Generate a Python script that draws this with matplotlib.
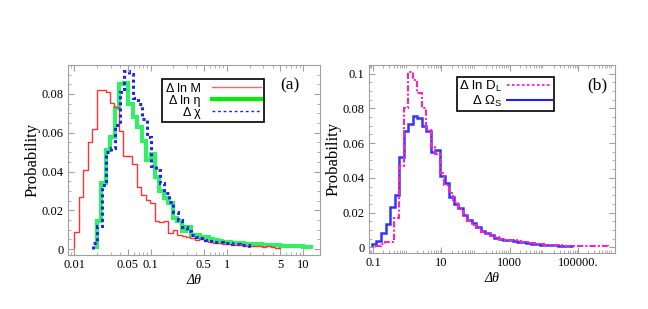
import numpy as np
import matplotlib.pyplot as plt
from matplotlib.lines import Line2D
from matplotlib.ticker import FixedLocator, FixedFormatter, LogLocator, MultipleLocator, NullFormatter

plt.rcParams['mathtext.fontset'] = 'custom'
plt.rcParams['mathtext.rm'] = 'Liberation Sans'
plt.rcParams['mathtext.it'] = 'Liberation Sans:italic'

# ---- panel (a): histograms in log10(dtheta), bins of equal log width ----
a_binw = 0.0586
lnM_start = -2.0
lnM = [0.009, 0.027, 0.041, 0.055, 0.062, 0.082, 0.082, 0.081, 0.0755, 0.0735,
       0.061, 0.048, 0.048, 0.044, 0.032, 0.0277, 0.0255, 0.0237, 0.0146, 0.014,
       0.0145, 0.0085, 0.010, 0.0075, 0.007, 0.006, 0.0055, 0.0045, 0.005, 0.004,
       0.0035, 0.003, 0.003, 0.0025, 0.0025, 0.002, 0.002, 0.002, 0.0015, 0.0015,
       0.0015, 0.0015, 0.001, 0.0015, 0.001, 0.0005]

lneta_start = -1.703
lneta = [0.0145, 0.034, 0.051, 0.058, 0.073, 0.085, 0.0855, 0.075, 0.068, 0.063,
         0.056, 0.046, 0.049, 0.037, 0.030, 0.0265, 0.024, 0.016, 0.0145, 0.0095,
         0.0115, 0.0075, 0.0075, 0.0065, 0.006, 0.005, 0.0045, 0.004, 0.0038, 0.0035,
         0.0033, 0.003, 0.003, 0.0028, 0.0027, 0.0025, 0.0025, 0.0022, 0.002, 0.002,
         0.002, 0.0018, 0.0018, 0.0015, 0.0015, 0.0015, 0.0012, 0.0012]

chi_start = -1.755
chi = [0.0034, 0.012, 0.033, 0.050, 0.052, 0.064, 0.081, 0.092, 0.0905, 0.078,
       0.075, 0.067, 0.058, 0.043, 0.041, 0.034, 0.029, 0.0245, 0.019, 0.015,
       0.0115, 0.0095, 0.0075, 0.0065, 0.0055, 0.0048, 0.0042, 0.0038, 0.0035, 0.0032,
       0.003, 0.0028, 0.0025, 0.0022, 0.002]

# ---- panel (b) ----
b_binw = 0.1327
lnDL_start = -0.902
lnDL = [0.0005, 0.002, 0.003, 0.003, 0.0167, 0.047, 0.080, 0.101, 0.0965, 0.0888,
        0.080, 0.0677, 0.058, 0.054, 0.043, 0.036, 0.031, 0.026, 0.022, 0.019,
        0.015, 0.013, 0.011, 0.009, 0.008, 0.0065, 0.006, 0.005, 0.0045, 0.0045,
        0.004, 0.0035, 0.003, 0.0028, 0.0025, 0.002, 0.0018, 0.0015, 0.0015, 0.0013,
        0.0012, 0.001, 0.001, 0.0008, 0.0008, 0.0008, 0.0007, 0.0007, 0.0007, 0.0007,
        0.0007]

omega_start = -1.03
omega = [0.0019, 0.0038, 0.0085, 0.0135, 0.0235, 0.030, 0.052, 0.0667, 0.071, 0.0754,
         0.0744, 0.0696, 0.0667, 0.055, 0.056, 0.0408, 0.0373, 0.029, 0.025, 0.0225,
         0.0187, 0.0158, 0.0138, 0.0115, 0.0095, 0.0085, 0.007, 0.0055, 0.005, 0.0045,
         0.004, 0.0037, 0.0033, 0.003, 0.0025, 0.002, 0.0018, 0.0015, 0.0013, 0.0012,
         0.0012, 0.001, 0.0008, 0.0005]

a_xticks = [0.01, 0.05, 0.1, 0.5, 1, 5, 10]
a_xlabels = ['0.01', '0.05', '0.1', '0.5', '1', '5', '10']
b_xticks = [0.1, 10, 1000, 1e5]
b_xlabels = ['0.1', '10', '1000', '100000.']


def edges(start, w, vals):
    return 10 ** (start + w * np.arange(len(vals) + 1))


def ylab(v):
    return '0' if v == 0 else ('%g' % v)


serif = 'Liberation Serif'
sans = 'Liberation Sans'
frame_c = '#a0a0a0'

fig = plt.figure(figsize=(6.48, 3.09), dpi=100)
axa = fig.add_axes([0.105, 0.175, 0.389, 0.615])
axb = fig.add_axes([0.569, 0.181, 0.380, 0.609])

axa.stairs(lneta, edges(lneta_start, a_binw, lneta), baseline=0, color='#33ee66', lw=3.0)
axa.stairs(lnM, edges(lnM_start, a_binw, lnM), baseline=0, color='#ff3333', lw=1.0)
axa.stairs(chi, edges(chi_start, a_binw, chi), baseline=0, color='#2222ee', lw=2.2, ls=(0, (1, 1)))

axb.stairs(omega, edges(omega_start, b_binw, omega), baseline=0, color='#3333ff', lw=1.8)
axb.stairs(lnDL, edges(lnDL_start, b_binw, lnDL), baseline=0, color='#ff22bb', lw=1.5,
           ls=(0, (3, 1, 1, 1)))

for ax in (axa, axb):
    ax.set_xscale('log')
    for s in ax.spines.values():
        s.set_color(frame_c)
        s.set_linewidth(0.8)
    ax.tick_params(which='both', direction='in', top=True, right=True, color=frame_c,
                   labelsize=9, pad=3)
    ax.tick_params(which='major', length=4)
    ax.tick_params(which='minor', length=2)
    ax.xaxis.set_minor_locator(LogLocator(base=10, subs=np.arange(2, 10), numticks=20))
    ax.xaxis.set_minor_formatter(NullFormatter())
    ax.set_ylabel('Probability', fontfamily=serif, fontsize=12, labelpad=1)
    ax.set_xlabel('Δθ', fontfamily=serif, fontstyle='italic', fontsize=10, labelpad=2)

axa.set_xlim(0.0083, 16.7)
axa.set_ylim(-0.003, 0.095)
axa.xaxis.set_major_locator(FixedLocator(a_xticks))
axa.xaxis.set_major_formatter(FixedFormatter(a_xlabels))
a_yt = [0, 0.02, 0.04, 0.06, 0.08]
axa.set_yticks(a_yt, [ylab(v) for v in a_yt])
axa.yaxis.set_minor_locator(MultipleLocator(0.005))

axb.set_xlim(0.075, 1.2e6)
axb.set_ylim(-0.0033, 0.105)
axb.xaxis.set_major_locator(FixedLocator(b_xticks))
axb.xaxis.set_major_formatter(FixedFormatter(b_xlabels))
b_yt = [0, 0.02, 0.04, 0.06, 0.08, 0.1]
axb.set_yticks(b_yt, [ylab(v) for v in b_yt])
axb.yaxis.set_minor_locator(MultipleLocator(0.005))

for ax in (axa, axb):
    for lbl in ax.get_xticklabels() + ax.get_yticklabels():
        lbl.set_fontfamily(serif)

ha = [Line2D([], [], color='#ff6666', lw=1.0),
      Line2D([], [], color='#00ee00', lw=3.0),
      Line2D([], [], color='#2222ee', lw=1.0, ls=(0, (2, 2)))]
la = axa.legend(ha, ['Δ ln M', 'Δ ln η', 'Δ χ'], loc='upper left',
                bbox_to_anchor=(0.373, 0.926), markerfirst=False, fancybox=False,
                edgecolor='black', framealpha=1, prop={'family': sans, 'size': 9},
                borderpad=0.3, labelspacing=0.0, handlelength=3.9, handletextpad=0.9,
                borderaxespad=0)
la.get_frame().set_linewidth(1.2)

hb = [Line2D([], [], color='#ff00ff', lw=1.2, ls=(0, (1.5, 1.5))),
      Line2D([], [], color='#2222ee', lw=1.5)]
lb = axb.legend(hb, ['Δ ln D$_{\\rm L}$', 'Δ Ω$_{\\rm S}$'], loc='upper left',
                bbox_to_anchor=(0.358, 0.937), markerfirst=False, fancybox=False,
                edgecolor='black', framealpha=1, prop={'family': sans, 'size': 9.5},
                borderpad=0.15, labelspacing=0.0, handlelength=3.4, handletextpad=0.4,
                borderaxespad=0)
lb.get_frame().set_linewidth(1.2)

axa.text(0.92, 0.89, '(a)', transform=axa.transAxes, ha='right', va='center',
         fontfamily=serif, fontsize=12.5)
axb.text(0.97, 0.89, '(b)', transform=axb.transAxes, ha='right', va='center',
         fontfamily=serif, fontsize=12.5)

fig.savefig('out.png', dpi=100)
